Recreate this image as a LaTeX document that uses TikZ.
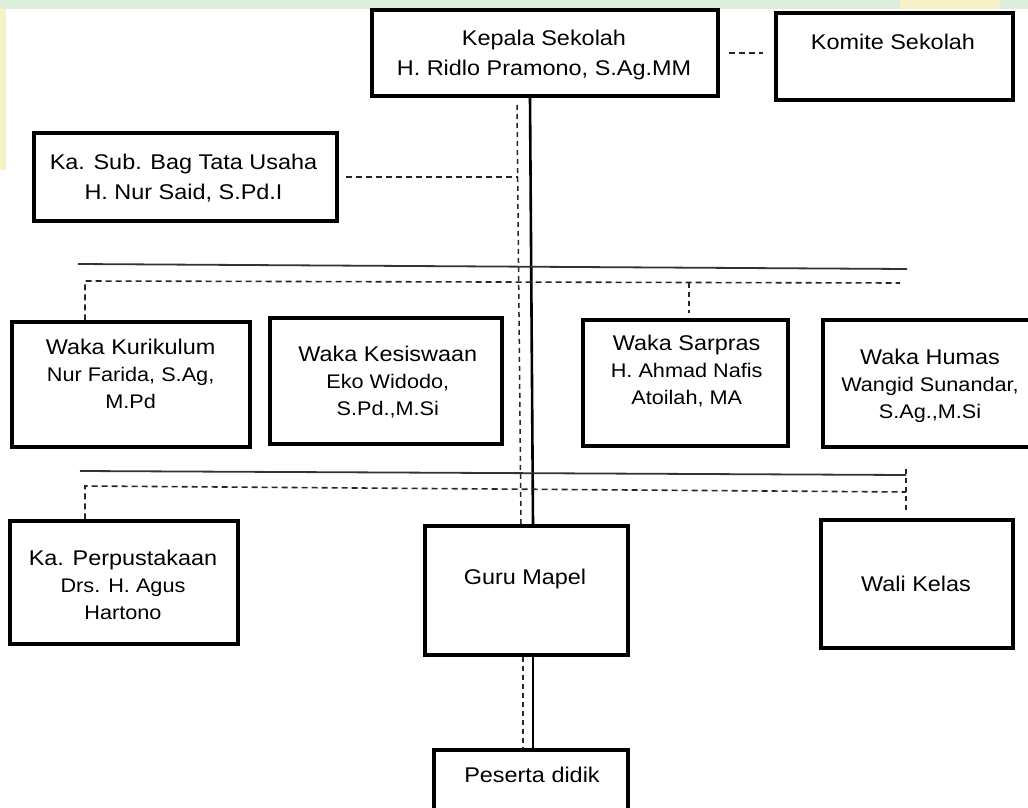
\documentclass[tikz,border=0pt]{standalone}
\usepackage{fontspec}
\setmainfont{Liberation Sans}[FakeStretch=1.1]
\newcommand\ttlfnt{\fontsize{21.3}{29.5}\selectfont}
\newcommand\ttlfntb{\fontsize{21.3}{27}\selectfont}
\newcommand\subfnt{\fontsize{19.7}{27}\selectfont}
\definecolor{wmg}{HTML}{DCEEDC}
\definecolor{wmy}{HTML}{F6F1C6}
\begin{document}
\begin{tikzpicture}[x=1pt,y=-1pt,
  box/.style={draw, line width=3.2pt, inner sep=0pt, fill=white},
  ttl/.style={font=\ttlfnt, align=center, inner sep=0pt, anchor=base},
  ttlb/.style={font=\ttlfntb, align=center, inner sep=0pt, anchor=base},
  mainline/.style={line width=2.6pt},
  hline/.style={line width=1.8pt, black!80},
  dsh/.style={line width=1.6pt, black!85, dash pattern=on 6pt off 4pt},
  vdsh/.style={line width=1.5pt, black!85, dash pattern=on 5pt off 4pt}]
\clip (0,0) rectangle (1028,808);
\fill[white] (0,0) rectangle (1028,808);
% faint watermark bands
\fill[wmg] (0,0) rectangle (1028,9);
\fill[wmy] (900,0) rectangle (1000,9);
\fill[wmy] (0,9) rectangle (6,170);

% boxes
\node[box, minimum width=346, minimum height=86] (kepala) at (545,53) {};
\node[box, minimum width=237, minimum height=87] (komite) at (894.5,56.5) {};
\node[box, minimum width=303, minimum height=88] (kasub) at (185.5,177) {};
\node[box, minimum width=238, minimum height=125] (kurikulum) at (131,384.5) {};
\node[box, minimum width=232, minimum height=126] (kesiswaan) at (386,381) {};
\node[box, minimum width=205, minimum height=126] (sarpras) at (685.5,383) {};
\node[box, minimum width=214, minimum height=127] (humas) at (930,383.5) {};
\node[box, minimum width=228, minimum height=123] (perpus) at (124,582.5) {};
\node[box, minimum width=203, minimum height=129] (guru) at (526.5,590.5) {};
\node[box, minimum width=192, minimum height=128] (wali) at (917,584) {};
\node[box, minimum width=194, minimum height=110] (peserta) at (531,805) {};

% texts (base anchor = baseline of the last line)
\node[ttl] (kepala-t) at (544,75) {Kepala Sekolah\\H. Ridlo Pramono, S.Ag.MM};
\node[ttl] (komite-t) at (893,50) {Komite Sekolah};
\node[ttl] (kasub-t) at (183.5,199) {Ka. Sub. Bag Tata Usaha\\H. Nur Said, S.Pd.I};
\node[ttlb] (kurikulum-t) at (130.6,408) {Waka Kurikulum\\{\subfnt Nur Farida, S.Ag,}\\{\subfnt M.Pd}};
\node[ttlb] (kesiswaan-t) at (387.8,415) {Waka Kesiswaan\\{\subfnt Eko Widodo,}\\{\subfnt S.Pd.,M.Si}};
\node[ttlb] (sarpras-t) at (686.7,404) {Waka Sarpras\\{\subfnt H. Ahmad Nafis}\\{\subfnt Atoilah, MA}};
\node[ttlb] (humas-t) at (930,418) {Waka Humas\\{\subfnt Wangid Sunandar,}\\{\subfnt S.Ag.,M.Si}};
\node[ttlb] (perpus-t) at (123,619) {Ka. Perpustakaan\\{\subfnt Drs. H. Agus}\\{\subfnt Hartono}};
\node[ttl] (guru-t) at (525,584) {Guru Mapel};
\node[ttl] (wali-t) at (916,591) {Wali Kelas};
\node[ttl] (peserta-t) at (532,782) {Peserta didik};

% helper coordinates
\coordinate (xa) at (530,0);
\coordinate (xb) at (533,0);
\coordinate (dA) at (517,105);
\coordinate (dB) at (521,0);
\coordinate (dC) at (523,0);
\coordinate (dK) at (517.6,0);
\coordinate (h1L) at (78,264);
\coordinate (h1R) at (907,269);
\coordinate (d1L) at (85,281);
\coordinate (d1R) at (900,283);
\coordinate (d1S) at (689,282.7);
\coordinate (h2L) at (80,471);
\coordinate (h2R) at (906,475);
\coordinate (d2L) at (85,486);
\coordinate (d2R) at (906,492);
\coordinate (d2T) at (906,469);

% main solid line
\draw[mainline] (kepala.south -| xa) -- (guru.north -| xb);
\draw[mainline] (guru.south -| xb) -- (peserta.north -| xb);
% main dashed line
\draw[vdsh] (dA) -- (guru.north -| dB);
\draw[vdsh] (guru.south -| dC) -- (peserta.north -| dC);
% komite
\draw[dsh, shorten <=9pt, shorten >=11pt] (kepala.east) -- (kepala.east -| komite.west);
% ka sub bag
\draw[dsh, shorten <=7pt] (kasub.east) -- (kasub.east -| dK);
% level 1
\draw[hline] (h1L) -- (h1R);
\draw[dsh] (kurikulum.north -| d1L) -- (d1L) -- (d1R);
\draw[vdsh, shorten >=5pt] (d1S) -- (sarpras.north -| d1S);
% level 2
\draw[hline] (h2L) -- (h2R);
\draw[dsh] (perpus.north -| d2L) -- (d2L) -- (d2R);
\draw[vdsh, shorten >=8pt] (d2T) -- (wali.north -| d2T);
\end{tikzpicture}
\end{document}
